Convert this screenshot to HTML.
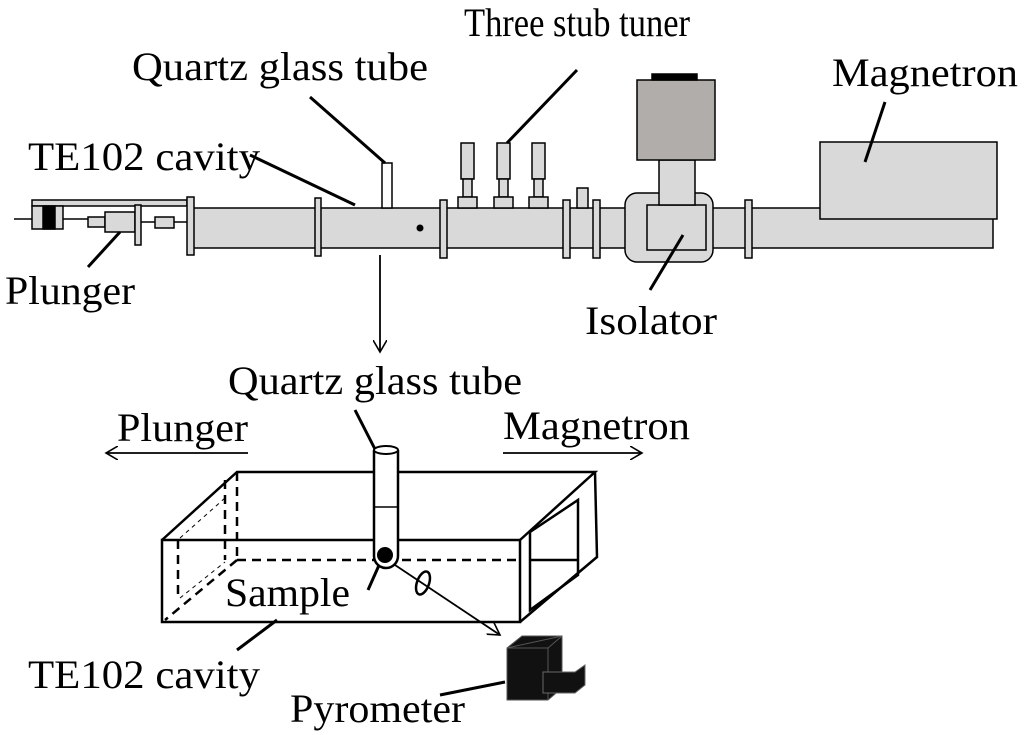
<!DOCTYPE html>
<html><head><meta charset="utf-8"><style>html,body{margin:0;padding:0;background:#fff}svg{display:block}text{font-family:"Liberation Serif",serif;font-size:40px;fill:#000}</style></head><body>
<svg width="1024" height="735" viewBox="0 0 1024 735" xmlns="http://www.w3.org/2000/svg">
<defs><marker id="ah" markerWidth="14" markerHeight="14" refX="12" refY="7" orient="auto" markerUnits="userSpaceOnUse"><path d="M0,0 L12,7 L0,14" fill="none" stroke="#000" stroke-width="1.6"/></marker></defs>
<g stroke="#000" stroke-width="1.5" fill="#d9d9d9">
<line x1="14" y1="219" x2="32" y2="219"/>
<rect x="32" y="200" width="155" height="6"/>
<rect x="32" y="206" width="31" height="23"/>
<rect x="43" y="206" width="12" height="23" fill="#000"/>
<line x1="63" y1="219" x2="88" y2="219"/>
<rect x="88" y="217" width="17" height="10"/>
<rect x="105" y="212" width="30" height="20"/>
<rect x="135" y="205" width="6" height="40"/>
<line x1="141" y1="222" x2="155" y2="222"/>
<rect x="155" y="217" width="19" height="11"/>
<line x1="174" y1="222" x2="187" y2="222"/>
<rect x="193" y="208" width="800" height="40"/>
<rect x="382" y="163" width="10" height="45" fill="#fff"/>
<rect x="187" y="197" width="7" height="58"/>
<rect x="315" y="198" width="6" height="58"/>
<rect x="440" y="200" width="7" height="58"/>
<rect x="563" y="200" width="7" height="58"/>
<rect x="593" y="200" width="7" height="58"/>
<rect x="745" y="200" width="7" height="58"/>
<rect x="577" y="188" width="11" height="20"/>
<rect x="461" y="143" width="13" height="36"/><rect x="463" y="179" width="9" height="18"/><rect x="458" y="197" width="19" height="11"/>
<rect x="497" y="143" width="13" height="36"/><rect x="499" y="179" width="9" height="18"/><rect x="494" y="197" width="19" height="11"/>
<rect x="532" y="143" width="13" height="36"/><rect x="534" y="179" width="9" height="18"/><rect x="529" y="197" width="19" height="11"/>
<rect x="625" y="193" width="88" height="69" rx="12"/>
<rect x="647" y="205" width="59" height="45"/>
<rect x="659" y="160" width="36" height="45"/>
<rect x="637" y="80" width="78" height="80" fill="#b0adab"/>
<rect x="652" y="74" width="45" height="6" fill="#000"/>
<rect x="820" y="142" width="177" height="77"/>
</g>
<circle cx="420" cy="228" r="3.5" fill="#000"/>
<g stroke="#000" stroke-width="3" fill="none">
<line x1="577" y1="70" x2="507" y2="143"/>
<line x1="310" y1="97" x2="385" y2="163"/>
<line x1="250" y1="155" x2="355" y2="205"/>
<line x1="885" y1="102" x2="865" y2="162"/>
<line x1="88" y1="267" x2="120" y2="232"/>
<line x1="650" y1="290" x2="683" y2="235"/>
<line x1="355" y1="410" x2="378" y2="455"/>
<line x1="368" y1="590" x2="380" y2="563"/>
<line x1="237" y1="650" x2="277" y2="620"/>
<line x1="440" y1="695" x2="505" y2="682"/>
</g>
<g stroke="#000" stroke-width="1.8" fill="none">
<line x1="380" y1="255" x2="380" y2="352" marker-end="url(#ah)"/>
<line x1="248" y1="453" x2="106" y2="453" marker-end="url(#ah)"/>
<line x1="503" y1="453" x2="642" y2="453" marker-end="url(#ah)"/>
<line x1="395" y1="565" x2="500" y2="635" marker-end="url(#ah)"/>
</g>
<g stroke="#000" stroke-width="2.5" fill="none">
<rect x="162" y="540" width="358" height="82"/>
<polyline points="162,540 237,472 595,472 520,540"/>
<polyline points="595,472 597,557 520,622"/>
<polygon points="530,532 578,500 578,575 530,610"/>
<line x1="530" y1="560" x2="578" y2="560"/>
</g>
<g stroke="#000" stroke-width="2.5" fill="none" stroke-dasharray="9,6">
<line x1="237" y1="472" x2="237" y2="560"/>
<line x1="237" y1="560" x2="520" y2="560"/>
<line x1="237" y1="560" x2="165" y2="620"/>
<line x1="225" y1="480" x2="225" y2="560"/>
<line x1="178" y1="540" x2="178" y2="600"/>
</g>
<g stroke="#000" stroke-width="1" fill="none" stroke-dasharray="4,4">
<line x1="180" y1="538" x2="225" y2="498"/>
<line x1="180" y1="598" x2="225" y2="562"/>
</g>
<path d="M374,450 L374,556 A12,12 0 0 0 398,556 L398,450" fill="#fff" stroke="#000" stroke-width="2.5"/>
<ellipse cx="386" cy="450" rx="12" ry="4" fill="#fff" stroke="#000" stroke-width="2"/>
<line x1="374" y1="507" x2="398" y2="507" stroke="#000" stroke-width="1.5"/>
<circle cx="385" cy="555" r="8" fill="#000"/>
<ellipse cx="423" cy="583" rx="6" ry="12" transform="rotate(20 423 583)" fill="none" stroke="#000" stroke-width="2.5"/>
<polygon points="507,648 522,636 562,636 562,688 548,700 507,700" fill="#111" stroke="#555"/>
<polygon points="507,648 548,648 562,636" fill="none" stroke="#555"/>
<line x1="548" y1="648" x2="548" y2="700" stroke="#555"/>
<polygon points="543,672 575,672 585,665 585,685 575,693 543,693" fill="#111" stroke="#666"/>
<text x="464" y="36" textLength="226" lengthAdjust="spacingAndGlyphs">Three stub tuner</text>
<text x="132" y="80" textLength="296" lengthAdjust="spacingAndGlyphs">Quartz glass tube</text>
<text x="28" y="170" textLength="232" lengthAdjust="spacingAndGlyphs">TE102 cavity</text>
<text x="832" y="86" textLength="186" lengthAdjust="spacingAndGlyphs">Magnetron</text>
<text x="5" y="304" textLength="130" lengthAdjust="spacingAndGlyphs">Plunger</text>
<text x="585" y="334" textLength="132" lengthAdjust="spacingAndGlyphs">Isolator</text>
<text x="228" y="394" textLength="294" lengthAdjust="spacingAndGlyphs">Quartz glass tube</text>
<text x="117" y="441" textLength="131" lengthAdjust="spacingAndGlyphs">Plunger</text>
<text x="503" y="439" textLength="187" lengthAdjust="spacingAndGlyphs">Magnetron</text>
<text x="225" y="606" textLength="125" lengthAdjust="spacingAndGlyphs">Sample</text>
<text x="28" y="688" textLength="232" lengthAdjust="spacingAndGlyphs">TE102 cavity</text>
<text x="290" y="722" textLength="175" lengthAdjust="spacingAndGlyphs">Pyrometer</text>
</svg>
</body></html>
